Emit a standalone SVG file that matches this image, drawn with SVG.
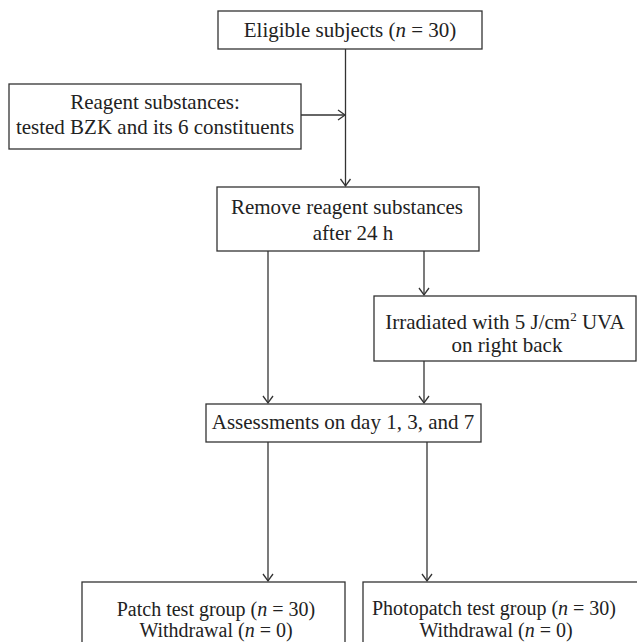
<svg xmlns="http://www.w3.org/2000/svg" width="637" height="642" viewBox="0 0 637 642">
<style>
.box{fill:#fff;stroke:#333;stroke-width:1.3}
.t{font-family:"Liberation Serif","Times New Roman",serif;font-size:21px;fill:#222;text-anchor:middle}
.s{font-size:20px}
.c{stroke:#333;stroke-width:1.3;fill:none}
.i{font-style:italic}
</style>
<defs>
<marker id="a" markerWidth="12" markerHeight="12" refX="9" refY="6" orient="auto" markerUnits="userSpaceOnUse">
<path d="M2,1 L9,6 L2,11" fill="none" stroke="#333" stroke-width="1.3"/>
</marker>
</defs>
<rect width="637" height="642" fill="#fff"/>
<g id="connectors">
<path class="c" d="M345.5,49 V186" marker-end="url(#a)"/>
<path class="c" d="M301,115 H345" marker-end="url(#a)"/>
<path class="c" d="M268,251 V403" marker-end="url(#a)"/>
<path class="c" d="M424,251 V295" marker-end="url(#a)"/>
<path class="c" d="M424,361 V403" marker-end="url(#a)"/>
<path class="c" d="M268,442 V581" marker-end="url(#a)"/>
<path class="c" d="M427,442 V581" marker-end="url(#a)"/>
</g>
<g id="eligible">
<rect class="box" x="218" y="11" width="264" height="38"/>
<text class="t" x="350" y="37">Eligible subjects (<tspan class="i">n</tspan> = 30)</text>
</g>
<g id="reagent">
<rect class="box" x="9" y="84" width="292" height="65"/>
<text class="t" x="155" y="109">Reagent substances:</text>
<text class="t" x="155" y="134">tested BZK and its 6 constituents</text>
</g>
<g id="remove">
<rect class="box" x="217" y="187" width="262" height="64"/>
<text class="t" x="347" y="214">Remove reagent substances</text>
<text class="t" x="353" y="240">after 24 h</text>
</g>
<g id="irradiated">
<rect class="box" x="374" y="296" width="262" height="65"/>
<text class="t" x="505" y="329">Irradiated with 5 J/cm<tspan font-size="13" dy="-8">2</tspan><tspan dy="8"> UVA</tspan></text>
<text class="t" x="507" y="352">on right back</text>
</g>
<g id="assessments">
<rect class="box" x="206" y="404" width="275" height="38"/>
<text class="t" x="343" y="429">Assessments on day 1, 3, and 7</text>
</g>
<g id="patch">
<rect class="box" x="82" y="582" width="263" height="70"/>
<text class="t s" x="216" y="616">Patch test group (<tspan class="i">n</tspan> = 30)</text>
<text class="t s" x="216" y="637">Withdrawal (<tspan class="i">n</tspan> = 0)</text>
</g>
<g id="photopatch">
<rect class="box" x="363" y="582" width="280" height="70"/>
<text class="t s" x="494" y="615">Photopatch test group (<tspan class="i">n</tspan> = 30)</text>
<text class="t s" x="496" y="637">Withdrawal (<tspan class="i">n</tspan> = 0)</text>
</g>
</svg>
